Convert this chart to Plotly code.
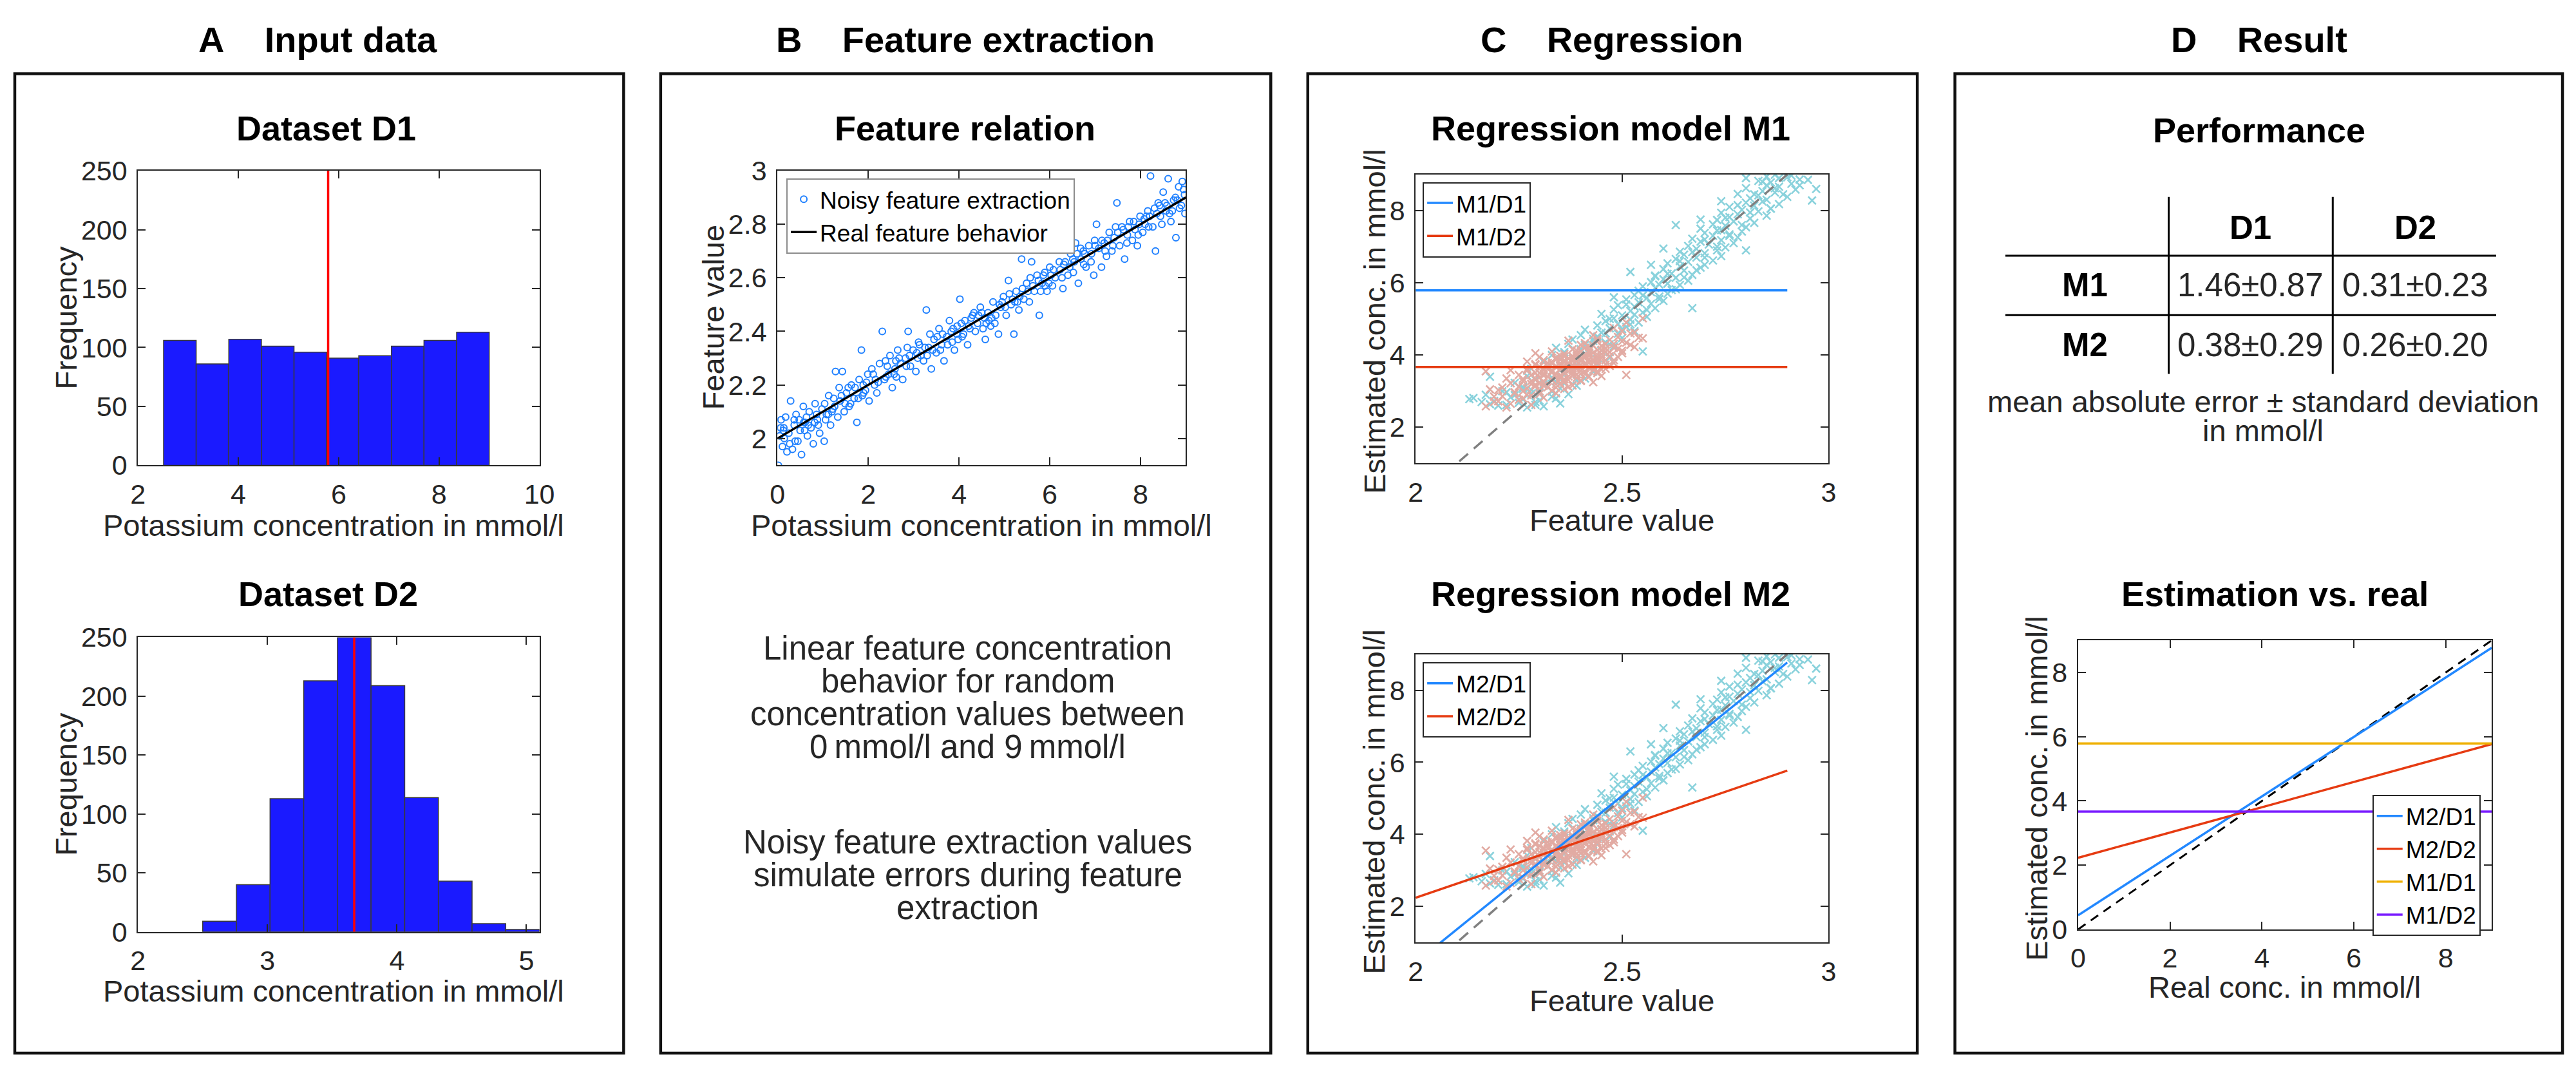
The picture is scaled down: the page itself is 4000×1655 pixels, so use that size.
import plotly.graph_objects as go

W, H = 4000, 1655
FONT = "Liberation Sans, Arial, Helvetica, sans-serif"
INK = "#262626"

# ---- panel A: histograms of the two datasets ----
d1_edges = [2.51, 3.16, 3.81, 4.46, 5.11, 5.76, 6.40, 7.05, 7.70, 8.35, 9.00]
d1_counts = [106, 86, 107, 101, 96, 91, 93, 101, 106, 113]
d1_mean = 5.79
d2_edges = [2.50, 2.76, 3.02, 3.28, 3.54, 3.80, 4.06, 4.32, 4.58, 4.84, 5.10]
d2_counts = [9, 40, 113, 213, 250, 209, 114, 43, 7, 2]
d2_mean = 3.67

# ---- panel B: noisy feature extraction (concentration, feature value) ----
noisy_pts = [
    (0.02, 1.90), (0.05, 2.01), (0.08, 2.07), (0.11, 1.97), (0.14, 2.04), (0.18, 2.08), (0.21, 1.95), (0.25, 2.02),
    (0.29, 2.14), (0.33, 1.96), (0.37, 2.05), (0.41, 2.09), (0.45, 1.99), (0.50, 2.03), (0.53, 1.94), (0.57, 2.12),
    (0.61, 2.06), (0.66, 2.01), (0.70, 2.10), (0.74, 2.04), (0.79, 1.98), (0.83, 2.13), (0.88, 2.07), (0.93, 2.02),
    (0.98, 2.11), (1.03, 1.99), (1.08, 2.09), (1.13, 2.16), (1.17, 2.05), (1.22, 2.11), (1.28, 2.25), (1.33, 2.08),
    (1.38, 2.14), (1.43, 2.25), (1.47, 2.10), (1.52, 2.17), (1.58, 2.12), (1.63, 2.20), (1.69, 2.15), (1.75, 2.06),
    (1.80, 2.22), (1.85, 2.33), (1.90, 2.17), (1.96, 2.21), (2.02, 2.14), (2.08, 2.26), (2.14, 2.20), (2.19, 2.17),
    (2.25, 2.28), (2.31, 2.40), (2.36, 2.22), (2.42, 2.27), (2.48, 2.31), (2.53, 2.19), (2.59, 2.26), (2.65, 2.33),
    (2.71, 2.28), (2.76, 2.22), (2.82, 2.30), (2.88, 2.40), (2.93, 2.27), (2.99, 2.33), (3.05, 2.25), (3.11, 2.36),
    (3.16, 2.31), (3.22, 2.29), (3.28, 2.48), (3.33, 2.34), (3.39, 2.26), (3.45, 2.37), (3.50, 2.32), (3.56, 2.41),
    (3.62, 2.35), (3.67, 2.29), (3.73, 2.38), (3.79, 2.44), (3.85, 2.36), (3.90, 2.33), (3.96, 2.42), (4.02, 2.52),
    (4.07, 2.38), (4.13, 2.44), (4.19, 2.35), (4.24, 2.41), (4.30, 2.46), (4.36, 2.40), (4.41, 2.43), (4.47, 2.49),
    (4.53, 2.41), (4.58, 2.37), (4.64, 2.47), (4.70, 2.42), (4.75, 2.51), (4.81, 2.46), (4.87, 2.39), (4.92, 2.49),
    (4.98, 2.53), (5.04, 2.46), (5.09, 2.59), (5.15, 2.50), (5.21, 2.39), (5.26, 2.55), (5.32, 2.48), (5.38, 2.67),
    (5.43, 2.52), (5.49, 2.58), (5.55, 2.51), (5.60, 2.66), (5.66, 2.55), (5.72, 2.61), (5.77, 2.46), (5.83, 2.58),
    (5.89, 2.62), (5.94, 2.55), (6.00, 2.64), (6.06, 2.57), (6.12, 2.60), (6.17, 2.71), (6.23, 2.63), (6.29, 2.56),
    (6.34, 2.66), (6.40, 2.61), (6.46, 2.69), (6.52, 2.62), (6.57, 2.73), (6.63, 2.58), (6.69, 2.67), (6.74, 2.70),
    (6.80, 2.64), (6.86, 2.72), (6.91, 2.66), (6.97, 2.61), (7.03, 2.80), (7.08, 2.71), (7.14, 2.64), (7.20, 2.73),
    (7.25, 2.68), (7.31, 2.77), (7.37, 2.70), (7.42, 2.75), (7.48, 2.88), (7.54, 2.72), (7.59, 2.79), (7.65, 2.67),
    (7.71, 2.76), (7.76, 2.81), (7.82, 2.74), (7.88, 2.78), (7.93, 2.72), (7.99, 2.83), (8.05, 2.77), (8.10, 2.80),
    (8.16, 2.85), (8.22, 2.98), (8.27, 2.79), (8.33, 2.70), (8.39, 2.88), (8.44, 2.83), (8.50, 2.92), (8.56, 2.85),
    (8.61, 2.97), (8.67, 2.81), (8.73, 2.89), (8.78, 2.75), (8.84, 2.94), (8.90, 2.87), (8.95, 2.93), (8.98, 2.84),
    (0.15, 2.00), (0.39, 1.99), (0.64, 2.08), (0.90, 2.05), (1.12, 2.09), (1.36, 2.19), (1.61, 2.13), (1.87, 2.16),
    (2.11, 2.24), (2.38, 2.29), (2.62, 2.23), (2.86, 2.34), (3.09, 2.30), (3.36, 2.39), (3.59, 2.33), (3.83, 2.40),
    (4.10, 2.39), (4.33, 2.47), (4.56, 2.45), (4.79, 2.43), (5.02, 2.49), (5.29, 2.51), (5.52, 2.55), (5.75, 2.59),
    (5.98, 2.58), (6.21, 2.66), (6.44, 2.64), (6.68, 2.71), (6.92, 2.69), (7.15, 2.74), (7.39, 2.72), (7.62, 2.78),
    (7.85, 2.81), (8.08, 2.82), (8.31, 2.86), (8.54, 2.88), (8.77, 2.90), (8.92, 2.96), (8.70, 2.85), (8.47, 2.80),
    (8.20, 2.83), (7.95, 2.76), (7.70, 2.73), (7.45, 2.79), (7.22, 2.70), (6.99, 2.74), (6.75, 2.65), (6.51, 2.67),
    (6.27, 2.60), (6.03, 2.61), (5.80, 2.55), (5.57, 2.60), (5.34, 2.53), (5.11, 2.54), (4.89, 2.50), (4.66, 2.44),
    (4.43, 2.46), (4.21, 2.42), (3.98, 2.37), (3.75, 2.35), (3.52, 2.38), (3.30, 2.31), (3.07, 2.32), (2.84, 2.27),
    (2.61, 2.29), (2.39, 2.23), (2.16, 2.22), (1.94, 2.18), (1.71, 2.19), (1.49, 2.13), (1.26, 2.12), (1.04, 2.13),
    (0.82, 2.06), (0.60, 2.03), (0.37, 2.07), (0.13, 2.03),
    (0.07, 2.04), (0.27, 1.98), (0.48, 2.07), (0.68, 2.05), (0.86, 2.09), (1.06, 2.07), (1.24, 2.15), (1.41, 2.16),
    (1.56, 2.19), (1.78, 2.15), (1.99, 2.24), (2.22, 2.21), (2.45, 2.24), (2.68, 2.30), (2.91, 2.31), (3.13, 2.35),
    (3.42, 2.33), (3.64, 2.39), (3.87, 2.41), (4.05, 2.43), (4.27, 2.45), (4.50, 2.47), (4.72, 2.45), (4.95, 2.51),
    (5.18, 2.52), (5.40, 2.56), (5.63, 2.57), (5.86, 2.61), (6.08, 2.63), (6.31, 2.65), (6.54, 2.66), (6.77, 2.69),
    (7.00, 2.72), (7.27, 2.74), (7.50, 2.77), (7.73, 2.79), (7.97, 2.80), (8.13, 2.83), (8.36, 2.84), (8.58, 2.87),
    (8.81, 2.89), (8.97, 2.91), (8.86, 2.86), (8.64, 2.84), (8.42, 2.87), (8.18, 2.79), (6.60, 2.69), (5.90, 2.57),
    (5.23, 2.51), (4.60, 2.43), (3.95, 2.39), (3.25, 2.34), (2.57, 2.24), (1.89, 2.20), (1.20, 2.10), (0.58, 2.06),
]
real_conc = [0.0, 9.0]
real_feat = [2.0, 2.9]

# ---- panel C: feature value vs real concentration (feature, conc) ----
d1_pts = [
    (2.27, 2.55), (2.31, 2.58), (2.22, 2.62), (2.35, 2.66), (2.29, 2.70), (2.19, 2.73), (2.26, 2.77), (2.14, 2.81),
    (2.33, 2.85), (2.24, 2.89), (2.37, 2.92), (2.30, 2.96), (2.21, 3.00), (2.28, 3.04), (2.35, 3.08), (2.26, 3.12),
    (2.39, 3.15), (2.31, 3.19), (2.24, 3.23), (2.34, 3.27), (2.29, 3.31), (2.41, 3.35), (2.33, 3.38), (2.27, 3.42),
    (2.36, 3.46), (2.30, 3.50), (2.43, 3.54), (2.35, 3.58), (2.28, 3.62), (2.39, 3.66), (2.32, 3.70), (2.44, 3.73),
    (2.37, 3.77), (2.31, 3.81), (2.40, 3.85), (2.35, 3.89), (2.47, 3.93), (2.38, 3.96), (2.33, 4.00), (2.42, 4.04),
    (2.36, 4.08), (2.45, 4.12), (2.40, 4.16), (2.34, 4.20), (2.48, 4.24), (2.41, 4.28), (2.37, 4.31), (2.46, 4.35),
    (2.43, 4.39), (2.38, 4.43), (2.50, 4.47), (2.44, 4.51), (2.40, 4.55), (2.49, 4.59), (2.45, 4.62), (2.53, 4.66),
    (2.41, 4.70), (2.47, 4.74), (2.51, 4.78), (2.44, 4.82), (2.49, 4.86), (2.54, 4.90), (2.46, 4.94), (2.52, 4.98),
    (2.48, 5.02), (2.56, 5.06), (2.50, 5.10), (2.45, 5.14), (2.55, 5.18), (2.52, 5.22), (2.48, 5.26), (2.58, 5.30),
    (2.53, 5.34), (2.49, 5.38), (2.57, 5.42), (2.54, 5.46), (2.60, 5.50), (2.51, 5.54), (2.56, 5.58), (2.59, 5.62),
    (2.53, 5.66), (2.61, 5.70), (2.57, 5.74), (2.54, 5.78), (2.63, 5.82), (2.58, 5.86), (2.55, 5.90), (2.64, 5.94),
    (2.61, 5.98), (2.57, 6.02), (2.66, 6.06), (2.60, 6.10), (2.63, 6.14), (2.58, 6.18), (2.67, 6.22), (2.62, 6.26),
    (2.52, 6.30), (2.65, 6.34), (2.60, 6.38), (2.69, 6.42), (2.64, 6.46), (2.70, 6.50), (2.61, 6.54), (2.66, 6.58),
    (2.72, 6.62), (2.63, 6.66), (2.68, 6.70), (2.74, 6.74), (2.65, 6.78), (2.70, 6.82), (2.64, 6.86), (2.73, 6.90),
    (2.68, 6.94), (2.75, 6.98), (2.66, 7.02), (2.71, 7.06), (2.77, 7.10), (2.69, 7.14), (2.74, 7.18), (2.67, 7.22),
    (2.78, 7.26), (2.72, 7.30), (2.76, 7.34), (2.70, 7.38), (2.79, 7.42), (2.74, 7.46), (2.69, 7.50), (2.80, 7.54),
    (2.75, 7.58), (2.72, 7.62), (2.82, 7.66), (2.77, 7.70), (2.73, 7.74), (2.81, 7.78), (2.76, 7.82), (2.85, 7.86),
    (2.78, 7.90), (2.74, 7.94), (2.83, 7.98), (2.79, 8.02), (2.86, 8.06), (2.76, 8.10), (2.82, 8.14), (2.88, 8.18),
    (2.80, 8.22), (2.74, 8.26), (2.85, 8.30), (2.81, 8.34), (2.90, 8.38), (2.83, 8.42), (2.78, 8.46), (2.87, 8.50),
    (2.84, 8.54), (2.92, 8.58), (2.80, 8.62), (2.88, 8.66), (2.85, 8.70), (2.91, 8.74), (2.86, 8.78), (2.83, 8.82),
    (2.93, 8.86), (2.88, 8.90), (2.85, 8.94), (2.91, 8.97), (2.87, 8.99), (2.13, 2.78), (2.96, 8.28), (2.95, 8.85),
    (2.80, 6.90), (2.67, 5.30), (2.55, 4.10), (2.18, 3.40), (2.17, 2.90), (2.63, 7.60), (2.57, 6.50), (2.97, 8.60),
    (2.80, 8.90),
    (2.20, 2.60), (2.25, 2.68), (2.30, 2.74), (2.23, 2.83), (2.28, 2.93), (2.33, 2.99), (2.26, 3.07), (2.31, 3.17),
    (2.36, 3.22), (2.22, 2.97), (2.18, 2.64), (2.16, 2.70), (2.29, 2.62), (2.34, 2.80), (2.43, 4.45), (2.46, 4.60),
    (2.50, 4.72), (2.52, 4.85), (2.47, 5.00), (2.53, 5.12), (2.56, 5.25), (2.51, 5.40), (2.59, 5.55), (2.55, 5.65),
    (2.62, 5.80), (2.59, 5.95), (2.65, 6.15), (2.61, 6.25), (2.68, 6.35), (2.64, 6.60), (2.70, 6.70), (2.67, 6.85),
    (2.73, 7.00), (2.70, 7.20), (2.76, 7.30), (2.73, 7.45), (2.79, 7.60), (2.75, 7.80), (2.81, 7.95), (2.78, 8.15),
    (2.84, 8.25), (2.82, 8.45), (2.87, 8.62), (2.84, 8.80), (2.90, 8.92), (2.93, 8.70), (2.89, 8.45), (2.86, 8.05),
    (2.69, 7.75), (2.60, 6.95), (2.58, 6.20), (2.48, 5.60), (2.47, 4.30), (2.44, 3.90), (2.39, 3.30),
]
d2_pts = [
    (2.22, 2.55), (2.28, 2.62), (2.19, 2.70), (2.25, 2.76), (2.31, 2.82), (2.21, 2.86), (2.27, 2.90), (2.34, 2.94),
    (2.24, 2.97), (2.30, 3.00), (2.20, 3.03), (2.36, 3.06), (2.27, 3.08), (2.32, 3.11), (2.25, 3.13), (2.38, 3.16),
    (2.29, 3.18), (2.34, 3.20), (2.23, 3.22), (2.31, 3.24), (2.36, 3.26), (2.28, 3.28), (2.40, 3.30), (2.33, 3.32),
    (2.26, 3.34), (2.35, 3.36), (2.30, 3.38), (2.42, 3.40), (2.37, 3.41), (2.31, 3.43), (2.28, 3.45), (2.39, 3.46),
    (2.34, 3.48), (2.44, 3.50), (2.29, 3.51), (2.36, 3.53), (2.41, 3.54), (2.33, 3.56), (2.27, 3.57), (2.38, 3.59),
    (2.45, 3.60), (2.35, 3.62), (2.31, 3.63), (2.40, 3.65), (2.37, 3.66), (2.43, 3.68), (2.32, 3.69), (2.39, 3.71),
    (2.35, 3.72), (2.46, 3.74), (2.29, 3.75), (2.41, 3.77), (2.37, 3.78), (2.44, 3.80), (2.33, 3.81), (2.40, 3.83),
    (2.36, 3.85), (2.48, 3.86), (2.42, 3.88), (2.38, 3.90), (2.45, 3.91), (2.34, 3.93), (2.41, 3.95), (2.47, 3.97),
    (2.39, 3.99), (2.44, 4.01), (2.36, 4.03), (2.50, 4.05), (2.42, 4.07), (2.46, 4.09), (2.39, 4.12), (2.44, 4.14),
    (2.49, 4.17), (2.41, 4.20), (2.53, 4.22), (2.45, 4.25), (2.40, 4.28), (2.48, 4.31), (2.51, 4.34), (2.44, 4.38),
    (2.47, 4.42), (2.55, 4.46), (2.49, 4.50), (2.43, 4.55), (2.52, 4.60), (2.50, 4.66), (2.48, 4.75), (2.51, 4.90),
    (2.55, 5.02), (2.17, 2.58), (2.17, 3.55), (2.51, 3.45), (2.53, 4.62), (2.19, 2.85), (2.18, 3.05), (2.37, 4.40),
    (2.33, 4.10), (2.43, 3.25), (2.47, 3.70), (2.30, 3.95), (2.22, 3.35), (2.23, 3.58), (2.27, 3.82), (2.29, 4.05),
    (2.35, 3.44), (2.38, 3.52), (2.31, 3.58), (2.42, 3.64), (2.34, 3.67), (2.36, 3.70), (2.40, 3.73), (2.33, 3.76),
    (2.42, 3.79), (2.38, 3.84), (2.35, 3.87), (2.40, 3.92), (2.36, 3.96), (2.41, 4.00), (2.40, 3.48), (2.34, 3.39),
    (2.37, 3.31), (2.30, 3.21), (2.29, 3.14), (2.39, 3.62), (2.44, 3.55), (2.31, 3.49), (2.44, 3.87), (2.42, 4.13),
    (2.46, 4.18), (2.43, 4.27), (2.34, 3.10), (2.26, 3.00), (2.30, 2.92), (2.26, 2.80),
    (2.33, 3.30), (2.36, 3.33), (2.39, 3.37), (2.32, 3.40), (2.35, 3.42), (2.38, 3.45), (2.41, 3.47), (2.30, 3.50),
    (2.33, 3.53), (2.37, 3.55), (2.40, 3.57), (2.43, 3.59), (2.32, 3.61), (2.36, 3.63), (2.39, 3.65), (2.42, 3.67),
    (2.30, 3.68), (2.34, 3.70), (2.38, 3.72), (2.41, 3.74), (2.44, 3.76), (2.32, 3.78), (2.36, 3.80), (2.39, 3.82),
    (2.43, 3.84), (2.46, 3.86), (2.34, 3.88), (2.37, 3.90), (2.41, 3.92), (2.44, 3.94), (2.38, 3.97), (2.42, 3.99),
    (2.45, 4.02), (2.39, 4.04), (2.43, 4.06), (2.47, 4.08), (2.40, 4.10), (2.45, 4.15), (2.48, 4.20), (2.42, 4.23),
    (2.46, 4.30), (2.50, 4.38), (2.44, 4.45), (2.28, 3.20), (2.31, 3.15), (2.35, 3.22), (2.26, 3.27), (2.29, 3.35),
    (2.25, 3.45), (2.27, 3.62), (2.29, 3.72), (2.31, 3.86), (2.35, 3.98), (2.38, 4.16), (2.41, 4.33), (2.49, 3.95),
    (2.50, 4.12), (2.46, 3.62), (2.48, 3.78), (2.45, 3.42), (2.21, 3.10), (2.24, 2.95), (2.28, 2.88), (2.33, 3.02),
    (2.37, 3.12), (2.40, 3.28), (2.20, 2.72), (2.23, 2.65), (2.52, 4.28), (2.54, 4.48),
]
ideal_feat = [2.0, 2.9]
ideal_conc = [0.0, 9.0]
model_feat = [2.0, 2.9]
m1_d1 = [5.79, 5.79]
m1_d2 = [3.67, 3.67]
m2_d1 = [0.44, 8.77]
m2_d2 = [2.24, 5.77]

# ---- panel D: estimation vs real ----
real_range = [0.0, 9.0]
est_m2_d1 = [0.44, 8.77]
est_m2_d2 = [2.23, 5.77]
est_m1_d1 = [5.79, 5.79]
est_m1_d2 = [3.67, 3.67]
ideal_real = [0.0, 9.0]

table_models = ["M1", "M2"]
table_sets = ["D1", "D2"]
mae = [[1.46, 0.31], [0.38, 0.26]]
mae_sd = [[0.87, 0.23], [0.29, 0.20]]

HIST_BLUE = "#1a1aff"
PT_BLUE = "#1f80ff"
LINE_BLUE = "#2288ff"
LINE_RED = "#e63b12"
ORANGE = "#efb000"
PURPLE = "#7a1cff"
CYAN = "#8ad2dc"
PINK = "#e2aba3"


def px(x):
    return x / W


def py(y):
    return 1 - y / H


fig = go.Figure()

# panel A
for i, (edges, counts, mean) in enumerate([(d1_edges, d1_counts, d1_mean), (d2_edges, d2_counts, d2_mean)]):
    ax = "" if i == 0 else "2"
    fig.add_trace(go.Bar(
        x=edges[:-1], y=counts, width=[b - a for a, b in zip(edges[:-1], edges[1:])], offset=0,
        marker=dict(color=HIST_BLUE, line=dict(color="#3a3a3a", width=1.5)),
        xaxis="x" + ax, yaxis="y" + ax, showlegend=False,
    ))
    fig.add_trace(go.Scatter(
        x=[mean, mean], y=[0, 250], mode="lines", line=dict(color="#ff0000", width=3.5),
        xaxis="x" + ax, yaxis="y" + ax, showlegend=False,
    ))

# panel B
fig.add_trace(go.Scatter(
    x=[p[0] for p in noisy_pts], y=[p[1] for p in noisy_pts], mode="markers",
    name="Noisy feature extraction",
    marker=dict(symbol="circle-open", size=10, color=PT_BLUE, line=dict(width=2, color=PT_BLUE)),
    xaxis="x3", yaxis="y3", legend="legend",
))
fig.add_trace(go.Scatter(
    x=real_conc, y=real_feat, mode="lines", name="Real feature behavior",
    line=dict(color="black", width=3.5), xaxis="x3", yaxis="y3", legend="legend",
))

# panel C (same scatter in both models)
for ax, leg, names, lines in [
    ("4", "legend2", ["M1/D1", "M1/D2"], [m1_d1, m1_d2]),
    ("5", "legend3", ["M2/D1", "M2/D2"], [m2_d1, m2_d2]),
]:
    for pts, col in [(d1_pts, CYAN), (d2_pts, PINK)]:
        fig.add_trace(go.Scatter(
            x=[p[0] for p in pts], y=[p[1] for p in pts], mode="markers",
            marker=dict(symbol="x-thin", size=12, color=col, line=dict(width=2.6, color=col)),
            xaxis="x" + ax, yaxis="y" + ax, showlegend=False,
        ))
    fig.add_trace(go.Scatter(
        x=ideal_feat, y=ideal_conc, mode="lines",
        line=dict(color="#808080", width=3.5, dash="18px,12px"),
        xaxis="x" + ax, yaxis="y" + ax, showlegend=False,
    ))
    for name, yy, col in zip(names, lines, [LINE_BLUE, LINE_RED]):
        fig.add_trace(go.Scatter(
            x=model_feat, y=yy, mode="lines", name=name, line=dict(color=col, width=3.5),
            xaxis="x" + ax, yaxis="y" + ax, legend=leg,
        ))

# panel D
fig.add_trace(go.Scatter(
    x=real_range, y=ideal_real, mode="lines", line=dict(color="black", width=3, dash="14px,10px"),
    xaxis="x6", yaxis="y6", showlegend=False,
))
for name, yy, col in [("M2/D1", est_m2_d1, LINE_BLUE), ("M2/D2", est_m2_d2, LINE_RED),
                      ("M1/D1", est_m1_d1, ORANGE), ("M1/D2", est_m1_d2, PURPLE)]:
    fig.add_trace(go.Scatter(
        x=real_range, y=yy, mode="lines", name=name, line=dict(color=col, width=3.5),
        xaxis="x6", yaxis="y6", legend="legend4",
    ))


def axis(dom, rng, vals, text=None, anchor=None):
    return dict(
        domain=dom, range=rng, tickvals=vals, ticktext=text or [str(v) for v in vals],
        showline=True, linecolor=INK, linewidth=2, mirror="ticks", ticks="inside", ticklen=12,
        tickwidth=2, tickcolor=INK, showgrid=False, zeroline=False, anchor=anchor,
        tickfont=dict(family=FONT, size=43, color=INK), ticklabelstandoff=6,
    )


boxes = {
    "1": ((196, 825), (240, 711)),
    "2": ((196, 825), (986, 1457)),
    "3": ((1198, 1838), (240, 711)),
    "4": ((2198, 2845), (246, 708)),
    "5": ((2198, 2845), (1013, 1474)),
    "6": ((3236, 3884), (991, 1453)),
}
axes_spec = {
    "1": ([2, 10], [2, 4, 6, 8, 10], None, [0, 250], [0, 50, 100, 150, 200, 250], None),
    "2": ([2, 5.1], [2, 3, 4, 5], None, [0, 250], [0, 50, 100, 150, 200, 250], None),
    "3": ([0, 9], [0, 2, 4, 6, 8], None, [1.9, 3], [2, 2.2, 2.4, 2.6, 2.8, 3], ["2", "2.2", "2.4", "2.6", "2.8", "3"]),
    "4": ([2, 3], [2, 2.5, 3], None, [1, 9], [2, 4, 6, 8], None),
    "5": ([2, 3], [2, 2.5, 3], None, [1, 9], [2, 4, 6, 8], None),
    "6": ([0, 9], [0, 2, 4, 6, 8], None, [0, 9], [0, 2, 4, 6, 8], None),
}
layout_axes = {}
for k, ((x0, x1), (y0, y1)) in boxes.items():
    xr, xv, xt, yr, yv, yt = axes_spec[k]
    suffix = "" if k == "1" else k
    layout_axes["xaxis" + suffix] = axis([px(x0), px(x1)], xr, xv, xt, anchor="y" + suffix)
    layout_axes["yaxis" + suffix] = axis([py(y1), py(y0)], yr, yv, yt, anchor="x" + suffix)

annotations = []


def text(x, y, s, size, bold=False, angle=0):
    annotations.append(dict(
        x=px(x), y=py(y), xref="paper", yref="paper", text=f"<b>{s}</b>" if bold else s,
        showarrow=False, xanchor="center", yanchor="middle", textangle=angle,
        font=dict(family=FONT, size=size, color="black" if bold else INK),
    ))


NB = "\u00a0" * 4
# panel headers
text(478, 30, "A" + NB + "Input data", 56, bold=True)
text(1492, 30, "B" + NB + "Feature extraction", 56, bold=True)
text(2506, 30, "C" + NB + "Regression", 56, bold=True)
text(3520, 30, "D" + NB + "Result", 56, bold=True)
# subplot titles
text(491, 172, "Dataset D1", 54, bold=True)
text(494, 917, "Dataset D2", 54, bold=True)
text(1492, 172, "Feature relation", 54, bold=True)
text(2504, 172, "Regression model M1", 54, bold=True)
text(2504, 917, "Regression model M2", 54, bold=True)
text(3520, 175, "Performance", 54, bold=True)
text(3544, 917, "Estimation vs. real", 54, bold=True)
# axis titles
xlab = "Potassium concentration in mmol/l"
text(503, 807, xlab, 47)
text(83, 475, "Frequency", 47, angle=-90)
text(503, 1551, xlab, 47)
text(83, 1221, "Frequency", 47, angle=-90)
text(1518, 807, xlab, 47)
text(1097, 475, "Feature value", 47, angle=-90)
text(2521, 799, "Feature value", 47)
text(2133, 481, "Estimated conc. in mmol/l", 47, angle=-90)
text(2521, 1567, "Feature value", 47)
text(2133, 1249, "Estimated conc. in mmol/l", 47, angle=-90)
text(3560, 1545, "Real conc. in mmol/l", 47)
text(3171, 1228, "Estimated conc. in mmol/l", 47, angle=-90)

# panel B description
body_1 = ["Linear feature concentration", "behavior for random", "concentration values between",
          "0\u2009mmol/l and 9\u2009mmol/l"]
body_2 = ["Noisy feature extraction values", "simulate errors during feature", "extraction"]
for i, s in enumerate(body_1):
    text(1496, 1004 + i * 52.5, s, 51)
for i, s in enumerate(body_2):
    text(1496, 1314 + i * 52.5, s, 51)

# panel D table
col_x = [3506, 3764]
row_y = [423, 519]
for j, s in enumerate(table_sets):
    text(col_x[j], 331, s, 51, bold=True)
for i, m in enumerate(table_models):
    text(3247, row_y[i], m, 51, bold=True)
    for j in range(2):
        text(col_x[j], row_y[i], f"{mae[i][j]:.2f}±{mae_sd[i][j]:.2f}", 51)
text(3526, 609, "mean absolute error ± standard deviation", 47)
text(3526, 656, "in mmol/l", 47)

shapes = []
for x0, x1 in [(3, 957), (1015, 1971), (2029, 2984), (3043, 3995)]:
    shapes.append(dict(type="rect", xref="paper", yref="paper", x0=px(x0), x1=px(x1), y0=py(1651), y1=py(85),
                       line=dict(color="#111111", width=4.5)))
for xv in [3378, 3635]:
    shapes.append(dict(type="line", xref="paper", yref="paper", x0=px(xv), x1=px(xv), y0=py(282), y1=py(565),
                       line=dict(color="black", width=3)))
for yv in [376, 471]:
    shapes.append(dict(type="line", xref="paper", yref="paper", x0=px(3122), x1=px(3891), y0=py(yv), y1=py(yv),
                       line=dict(color="black", width=3)))


def legend_at(x, y, border):
    return dict(x=px(x), y=py(y), xanchor="left", yanchor="top", bgcolor="white", bordercolor=border,
                borderwidth=2, font=dict(family=FONT, size=37, color="black"), tracegroupgap=0,
                itemwidth=40)


fig.update_layout(
    width=W, height=H, margin=dict(l=0, r=0, t=0, b=0),
    paper_bgcolor="white", plot_bgcolor="white",
    barmode="overlay",
    annotations=annotations, shapes=shapes,
    legend=legend_at(1212, 252, "#8c8c8c"),
    legend2=legend_at(2209, 258, INK),
    legend3=legend_at(2209, 1026, INK),
    legend4=legend_at(3697, 1238, INK),
    **layout_axes,
)

fig.write_html("out.html")
